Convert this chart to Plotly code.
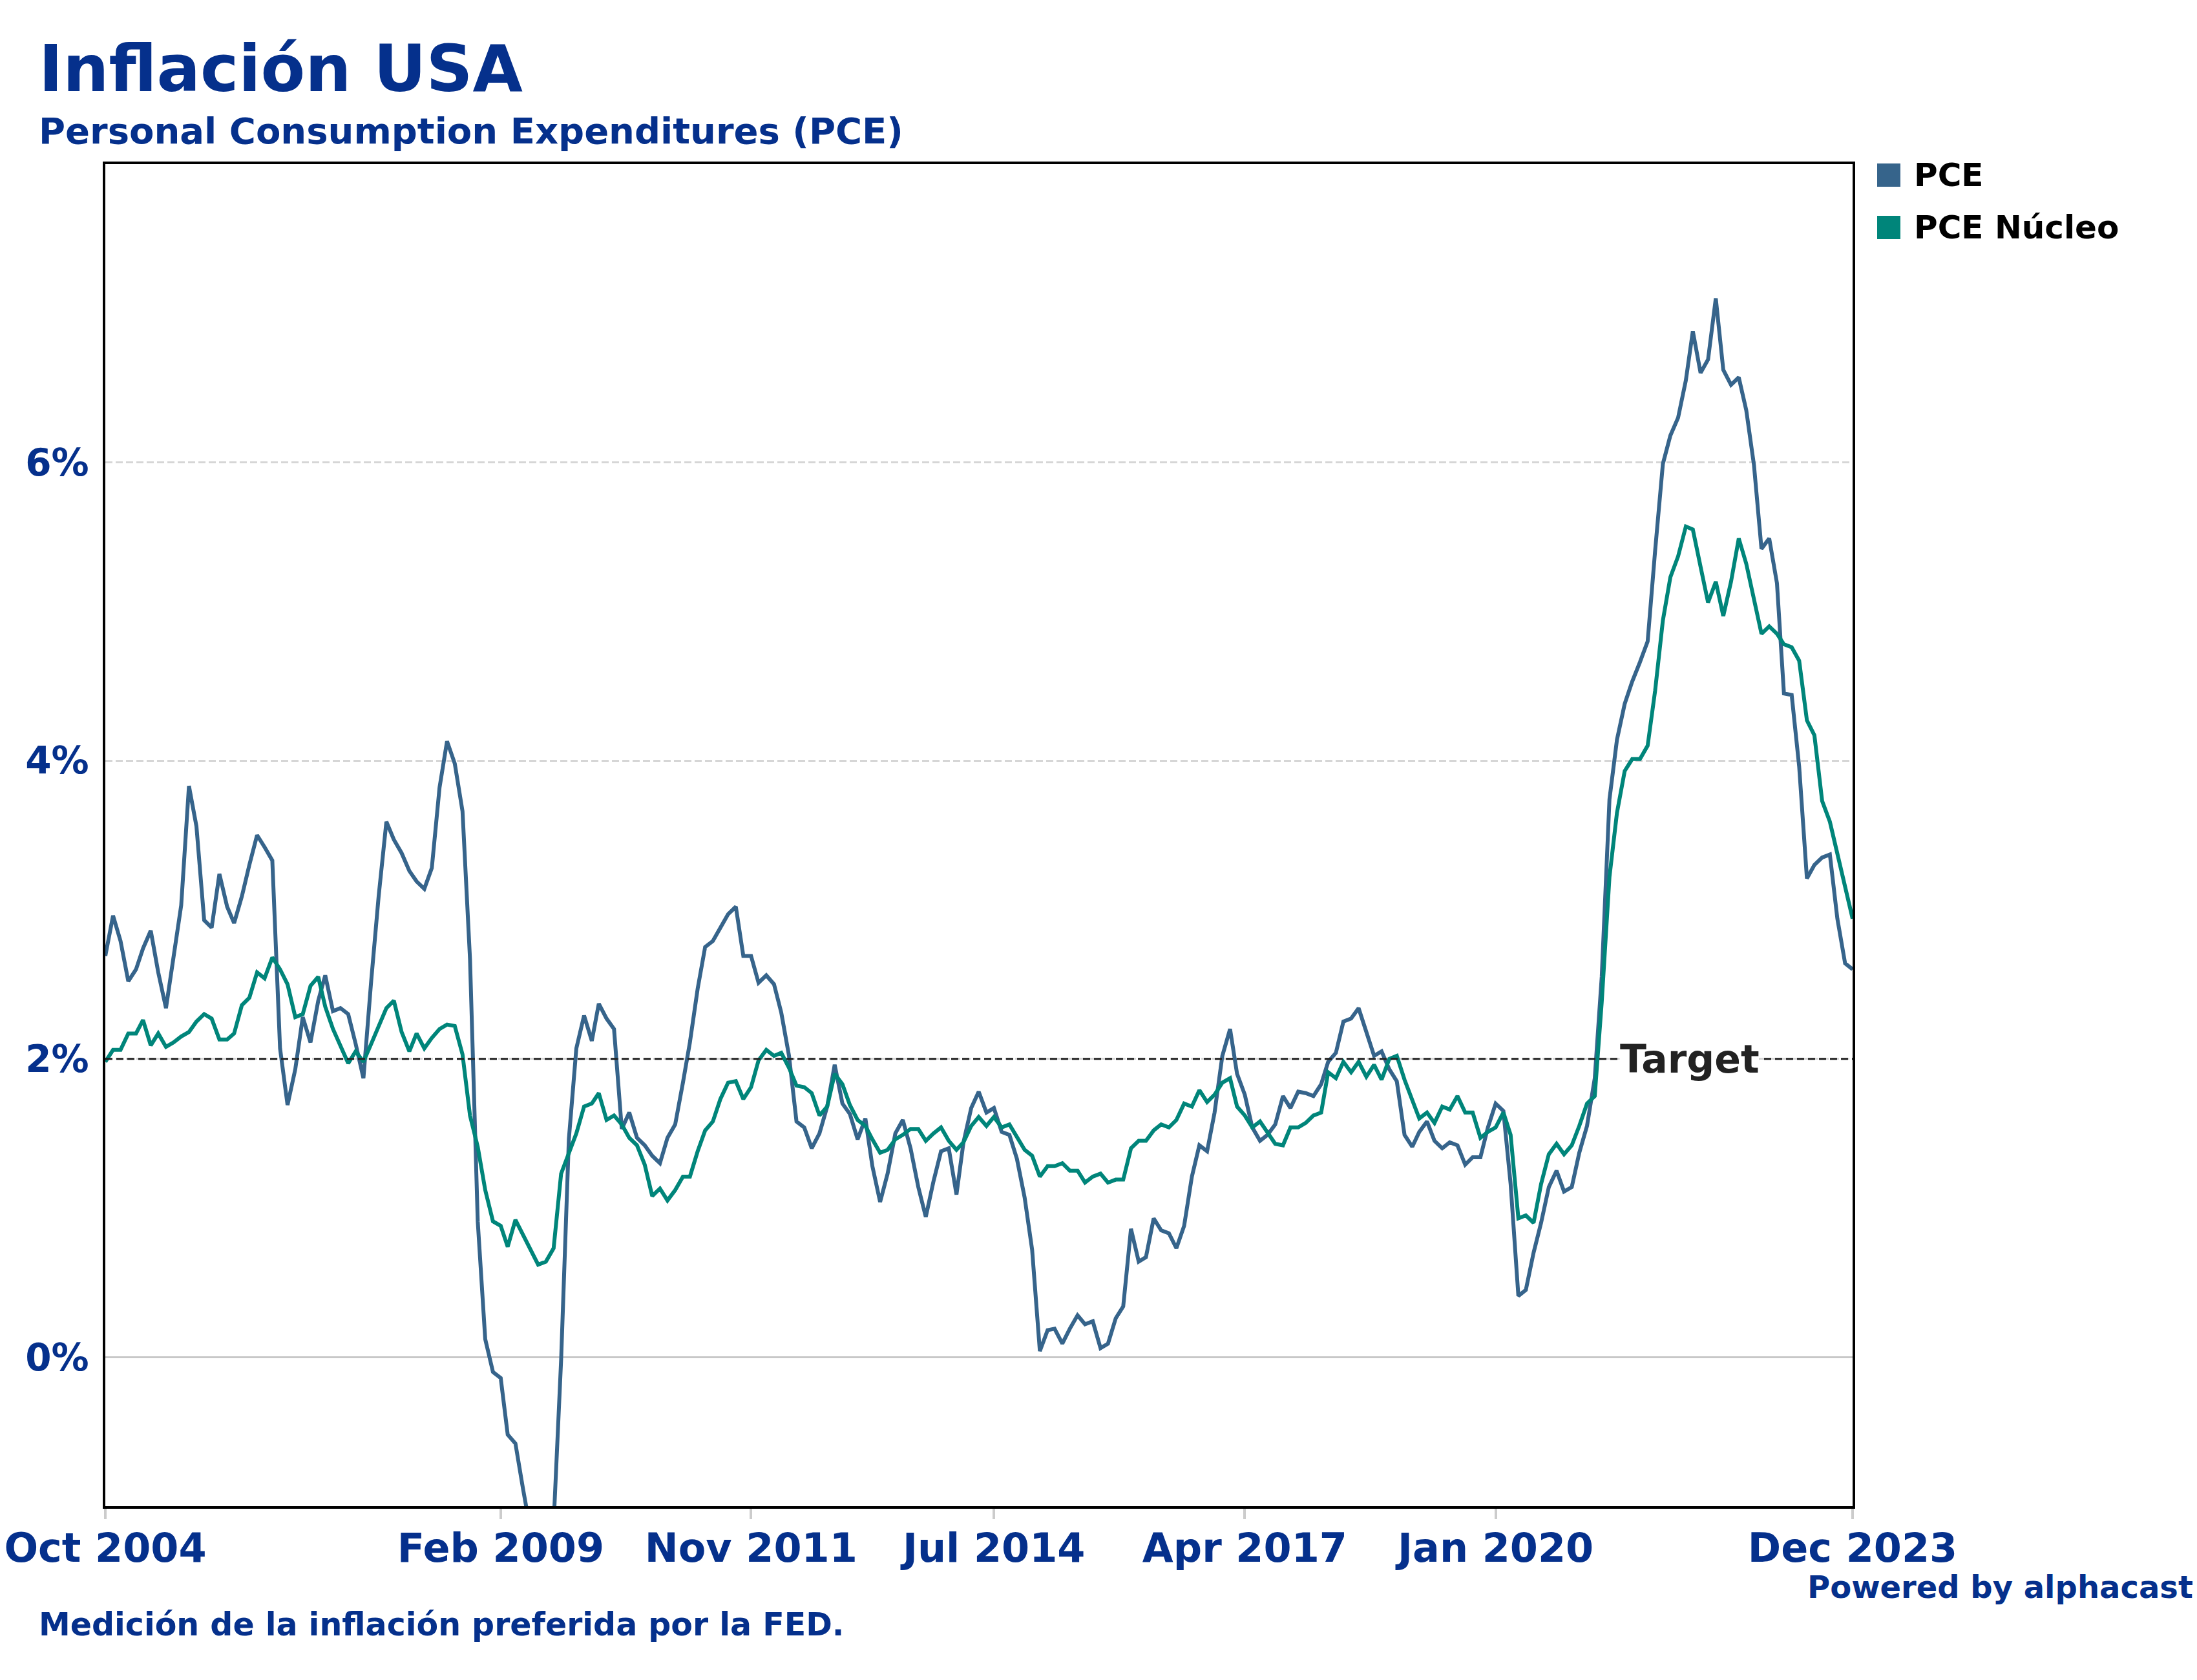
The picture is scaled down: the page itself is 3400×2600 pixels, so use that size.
import plotly.graph_objects as go
import pandas as pd

# ---------------- data ----------------
months = pd.date_range("2004-10-01", "2023-12-01", freq="MS").strftime("%Y-%m-%d").tolist()

pce = [
    2.69, 2.96, 2.79, 2.52, 2.60, 2.74, 2.86, 2.58, 2.34, 2.69, 3.03, 3.83,
    3.56, 2.93, 2.88, 3.24, 3.02, 2.91, 3.09, 3.30, 3.50, 3.42, 3.33, 2.07,
    1.69, 1.93, 2.28, 2.11, 2.39, 2.56, 2.32, 2.34, 2.30, 2.10, 1.87, 2.52,
    3.09, 3.59, 3.47, 3.38, 3.26, 3.19, 3.14, 3.28, 3.82, 4.13, 3.98, 3.66,
    2.67, 0.91, 0.12, -0.10, -0.14, -0.52, -0.58, -0.88, -1.15, -1.45, -1.30, -1.12,
    -0.02, 1.46, 2.07, 2.29, 2.12, 2.37, 2.27, 2.20, 1.53, 1.64, 1.47, 1.42,
    1.35, 1.30, 1.47, 1.56, 1.84, 2.11, 2.47, 2.75, 2.79, 2.88, 2.97, 3.02,
    2.69, 2.69, 2.51, 2.56, 2.50, 2.31, 2.02, 1.58, 1.54, 1.40, 1.50, 1.68,
    1.96, 1.70, 1.63, 1.46, 1.60, 1.28, 1.04, 1.23, 1.50, 1.59, 1.40, 1.14,
    0.94, 1.18, 1.38, 1.40, 1.09, 1.44, 1.67, 1.78, 1.64, 1.67, 1.51, 1.49,
    1.33, 1.07, 0.72, 0.04, 0.18, 0.19, 0.09, 0.19, 0.28, 0.22, 0.24, 0.06,
    0.09, 0.26, 0.34, 0.86, 0.64, 0.67, 0.93, 0.85, 0.83, 0.73, 0.88, 1.21,
    1.42, 1.38, 1.64, 2.02, 2.20, 1.90, 1.76, 1.54, 1.45, 1.49, 1.56, 1.75,
    1.67, 1.78, 1.77, 1.75, 1.83, 1.98, 2.04, 2.25, 2.27, 2.34, 2.17, 2.02,
    2.05, 1.93, 1.85, 1.49, 1.41, 1.51, 1.58, 1.45, 1.40, 1.44, 1.42, 1.29,
    1.34, 1.34, 1.54, 1.70, 1.65, 1.16, 0.41, 0.45, 0.70, 0.90, 1.14, 1.25,
    1.11, 1.14, 1.37, 1.55, 1.87, 2.55, 3.74, 4.14, 4.38, 4.53, 4.66, 4.80,
    5.41, 5.99, 6.18, 6.30, 6.55, 6.88, 6.60, 6.69, 7.10, 6.62, 6.52, 6.57,
    6.35, 5.98, 5.42, 5.49, 5.19, 4.45, 4.44, 3.96, 3.21, 3.30, 3.35, 3.37,
    2.94, 2.64, 2.60,
]

pce_core = [
    1.98, 2.06, 2.06, 2.17, 2.17, 2.26, 2.09, 2.17, 2.08, 2.11, 2.15, 2.18,
    2.25, 2.30, 2.27, 2.13, 2.13, 2.17, 2.36, 2.41, 2.58, 2.54, 2.68, 2.60,
    2.50, 2.28, 2.30, 2.49, 2.55, 2.35, 2.20, 2.08, 1.97, 2.05, 1.98, 2.10,
    2.22, 2.34, 2.39, 2.18, 2.05, 2.17, 2.07, 2.14, 2.20, 2.23, 2.22, 2.03,
    1.62, 1.41, 1.12, 0.91, 0.88, 0.74, 0.92, 0.82, 0.71, 0.62, 0.64, 0.73,
    1.23, 1.36, 1.50, 1.68, 1.70, 1.77, 1.59, 1.62, 1.56, 1.47, 1.42, 1.29,
    1.08, 1.13, 1.05, 1.12, 1.21, 1.21, 1.38, 1.52, 1.58, 1.73, 1.84, 1.85,
    1.73, 1.81, 1.99, 2.06, 2.02, 2.04, 1.94, 1.82, 1.81, 1.77, 1.62, 1.68,
    1.90, 1.83, 1.69, 1.59, 1.55, 1.46, 1.37, 1.39, 1.46, 1.49, 1.53, 1.53,
    1.45, 1.50, 1.54, 1.45, 1.39, 1.44, 1.55, 1.61, 1.55, 1.61, 1.54, 1.56,
    1.47, 1.39, 1.35, 1.21, 1.28, 1.28, 1.30, 1.25, 1.25, 1.17, 1.21, 1.23,
    1.17, 1.19, 1.19, 1.40, 1.45, 1.45, 1.52, 1.56, 1.54, 1.59, 1.70, 1.68,
    1.79, 1.71, 1.76, 1.84, 1.87, 1.68, 1.62, 1.54, 1.58, 1.51, 1.43, 1.42,
    1.54, 1.54, 1.57, 1.62, 1.64, 1.91, 1.87, 1.98, 1.91, 1.98, 1.88, 1.96,
    1.86, 2.00, 2.02, 1.86, 1.73, 1.60, 1.64, 1.57, 1.68, 1.66, 1.75, 1.64,
    1.64, 1.47, 1.51, 1.54, 1.64, 1.49, 0.93, 0.95, 0.90, 1.16, 1.36, 1.43,
    1.36, 1.42, 1.55, 1.70, 1.75, 2.38, 3.22, 3.65, 3.93, 4.01, 4.01, 4.10,
    4.47, 4.94, 5.23, 5.37, 5.57, 5.55, 5.30, 5.06, 5.20, 4.97, 5.20, 5.49,
    5.32, 5.09, 4.85, 4.90, 4.85, 4.78, 4.76, 4.67, 4.27, 4.17, 3.73, 3.59,
    3.37, 3.15, 2.94,
]

series_names = ["PCE", "PCE Núcleo"]
tick_dates = ["2004-10-01", "2009-02-01", "2011-11-01", "2014-07-01",
              "2017-04-01", "2020-01-01", "2023-12-01"]
tick_labels = ["Oct 2004", "Feb 2009", "Nov 2011", "Jul 2014",
               "Apr 2017", "Jan 2020", "Dec 2023"]
y_ticks = [0, 2, 4, 6]
y_tick_labels = ["0%", "2%", "4%", "6%"]
target_value = 2

# ---------------- style ----------------
W, H = 3400, 2600
L, R, T, B = 163, 2867, 254, 2331  # plot area in pixels
NAVY = "#05308C"
C_PCE = "#36648B"
C_CORE = "#00857A"
FONT = "DejaVu Sans"


def px_x(x):
    return (x - L) / (R - L)


def px_y(y):
    return (B - y) / (B - T)


fig = go.Figure()
fig.add_trace(go.Scatter(x=months, y=pce, mode="lines", name=series_names[0],
                         line=dict(color=C_PCE, width=6)))
fig.add_trace(go.Scatter(x=months, y=pce_core, mode="lines", name=series_names[1],
                         line=dict(color=C_CORE, width=6)))

fig.update_layout(
    width=W, height=H,
    margin=dict(l=L, r=W - R, t=T, b=H - B, autoexpand=False),
    plot_bgcolor="white", paper_bgcolor="white",
    showlegend=False,
    font=dict(family=FONT, color=NAVY),
)

fig.update_xaxes(
    type="date", range=[months[0], months[-1]],
    tickvals=tick_dates, ticktext=[f"<b>{t}</b>" for t in tick_labels],
    tickfont=dict(size=62, color=NAVY, family=FONT),
    ticks="outside", ticklen=16, tickwidth=4, tickcolor="#cccccc",
    ticklabelstandoff=-8,
    showgrid=False, showline=True, linecolor="black", linewidth=3.5, mirror=True,
    zeroline=False,
)
fig.update_yaxes(
    range=[-1, 8.0],
    tickvals=y_ticks, ticktext=[f"<b>{t}</b>" for t in y_tick_labels],
    tickfont=dict(size=58, color=NAVY, family=FONT),
    ticks="", ticklabelstandoff=10,
    showgrid=True, gridcolor="#d6d6d6", gridwidth=3, griddash="11px,5px",
    zeroline=True, zerolinecolor="#c8c8c8", zerolinewidth=3,
    showline=True, linecolor="black", linewidth=3.5, mirror=True,
)

# target line
fig.add_shape(type="line", xref="paper", yref="y", x0=0, x1=1,
              y0=target_value, y1=target_value, layer="above",
              line=dict(color="#222222", width=3, dash="11px,6px"))

ann = []
ann.append(dict(text="<b>Target</b>", xref="paper", yref="y", x=px_x(2615), y=target_value,
                xanchor="center", yanchor="middle", showarrow=False, bgcolor="white",
                borderpad=0, font=dict(size=60, color="#222222", family=FONT)))
# titles
ann.append(dict(text="<b>Inflación USA</b>", xref="paper", yref="paper",
                x=px_x(58), y=px_y(106), xanchor="left", yanchor="middle",
                showarrow=False, font=dict(size=100, color=NAVY, family=FONT)))
ann.append(dict(text="<b>Personal Consumption Expenditures (PCE)</b>", xref="paper", yref="paper",
                x=px_x(58), y=px_y(203), xanchor="left", yanchor="middle",
                showarrow=False, font=dict(size=56, color=NAVY, family=FONT)))
ann.append(dict(text="<b>Medición de la inflación preferida por la FED.</b>", xref="paper", yref="paper",
                x=px_x(58), y=px_y(2514), xanchor="left", yanchor="middle",
                showarrow=False, font=dict(size=49, color=NAVY, family=FONT)))
ann.append(dict(text="<b>Powered by alphacast</b>", xref="paper", yref="paper",
                x=px_x(3396), y=px_y(2456), xanchor="right", yanchor="middle",
                showarrow=False, font=dict(size=48, color=NAVY, family=FONT)))

# legend (custom squares + text)
legend_rows = [(series_names[0], C_PCE, 271), (series_names[1], C_CORE, 352)]
for name, col, cy in legend_rows:
    fig.add_shape(type="rect", xref="paper", yref="paper",
                  x0=px_x(2905), x1=px_x(2941), y0=px_y(cy + 18), y1=px_y(cy - 18),
                  fillcolor=col, line=dict(width=0))
    ann.append(dict(text=f"<b>{name}</b>", xref="paper", yref="paper",
                    x=px_x(2960), y=px_y(cy), xanchor="left", yanchor="middle",
                    showarrow=False, font=dict(size=50, color="black", family=FONT)))

fig.update_layout(annotations=ann)
fig.write_html("out.html")
